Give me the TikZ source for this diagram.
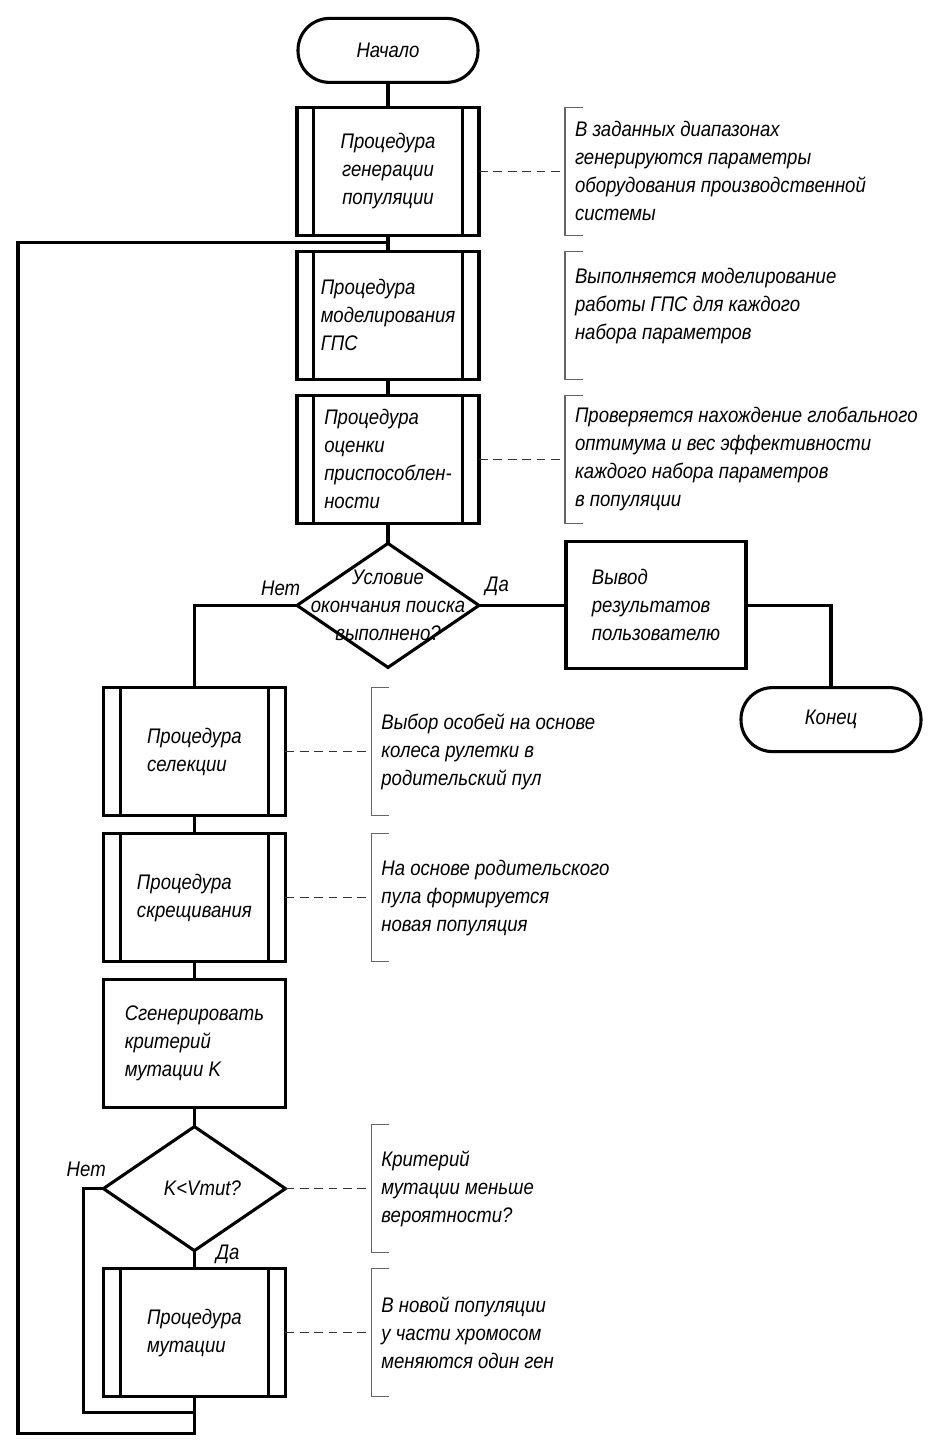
\documentclass[tikz,border=0pt]{standalone}
\usepackage{fontspec}
\setmainfont{Liberation Sans}[FakeStretch=0.88]
\usetikzlibrary{positioning,shapes.geometric,calc}
\newcommand{\flowfont}{\fontsize{15}{19.9}\selectfont\itshape}
\tikzset{
 base/.style={draw,line width=2.2pt,font=\flowfont,align=left,inner sep=0pt,outer sep=0pt},
 terminal/.style={base,rounded corners=0.79cm,minimum width=4.5cm,minimum height=1.6cm,align=center},
 procbox/.style={base,minimum width=4.55cm,minimum height=3.2cm,
   path picture={\draw[line width=2.2pt]
     ([xshift=0.42cm]path picture bounding box.north west) -- ([xshift=0.42cm]path picture bounding box.south west)
     ([xshift=-0.42cm]path picture bounding box.north east) -- ([xshift=-0.42cm]path picture bounding box.south east);}},
 plainbox/.style={base,minimum width=4.55cm,minimum height=3.2cm},
 decision/.style={base,diamond,minimum width=4.55cm,minimum height=3.1cm},
 note/.style={align=left,font=\flowfont,anchor=west,inner xsep=0.25cm,inner ysep=0pt,outer sep=0pt,minimum height=3.2cm},
 tag/.style={font=\flowfont,inner sep=1pt},
 line/.style={line width=2.2pt},
 dashline/.style={dash pattern=on 0.22cm off 0.14cm,line width=1pt,black!80},
 bracketline/.style={line width=1pt,black!60}
}
\begin{document}
\begin{tikzpicture}[node distance=0.45cm]
\useasboundingbox (0,0) rectangle (23.4,-36.375);
% main column
\node[terminal] (start) at (9.7,-1.26) {Начало};
\node[procbox,below=0.625cm of start,align=center] (genpop) {Процедура\\генерации\\популяции};
\node[procbox,below=0.4cm of genpop] (model) {Процедура\\моделирования\\ГПС};
\node[procbox,below=0.4cm of model] (fitness) {Процедура\\оценки\\приспособлен-\\ности};
\node[decision,below=0.5cm of fitness,
      label={[tag,align=center]center:Условие\\окончания поиска\\выполнено?}] (stopcond) {};
\node[plainbox,right=2.175cm of stopcond,minimum width=4.5cm,minimum height=3.175cm] (output) {Вывод\\результатов\\пользователю};
\coordinate[right=2.125cm of output] (outturn);
\node[procbox] (select) at (4.86,-18.79) {Процедура\\селекции};
\node[terminal,anchor=north] (finish) at (outturn |- select.north) {Конец};
\node[procbox,below=of select] (cross) {Процедура\\скрещивания};
\node[plainbox,below=of cross] (mkcrit) {Сгенерировать\\критерий\\мутации K};
\node[decision,below=0.475cm of mkcrit,label={[tag,xshift=0.2cm]center:K<Vmut?}] (mutcheck) {};
\node[procbox,below=of mutcheck] (mutate) {Процедура\\мутации};

% comments on the right
\node[note,right=2.15cm of genpop] (n1) {В заданных диапазонах\\генерируются параметры\\оборудования производственной\\системы};
\node[note,right=2.15cm of model] (n2) {Выполняется моделирование\\работы ГПС для каждого\\набора параметров\\[-0.1cm]};
\node[note,right=2.15cm of fitness] (n3) {Проверяется нахождение глобального\\оптимума и вес эффективности\\каждого набора параметров\\в популяции};
\node[note,right=2.15cm of select] (n4) {Выбор особей на основе\\колеса рулетки в\\родительский пул};
\node[note,right=2.15cm of cross] (n5) {На основе родительского\\пула формируется\\новая популяция};
\node[note,right=2.15cm of mutcheck] (n6) {Критерий\\мутации меньше\\вероятности?};
\node[note,right=2.15cm of mutate] (n7) {В новой популяции\\у части хромосом\\меняются один ген};
\foreach \n in {n1,n2,n3,n4,n5,n6,n7}
  \draw[bracketline] ([xshift=0.45cm]\n.north west) -- (\n.north west) -- (\n.south west) -- ([xshift=0.45cm]\n.south west);
\draw[dashline] (genpop.east) -- (n1.west);
\draw[dashline] (fitness.east) -- (n3.west);
\draw[dashline] (select.east) -- (n4.west);
\draw[dashline] (cross.east) -- (n5.west);
\draw[dashline] (mutcheck.east) -- (n6.west);
\draw[dashline] (mutate.east) -- (n7.west);

% branch labels
\node[tag,anchor=south east] (no1) at ([xshift=0.12cm,yshift=0.2cm]stopcond.west) {Нет};
\node[tag,anchor=south west] (yes1) at ([xshift=0.12cm,yshift=0.2cm]stopcond.east) {Да};
\node[tag,anchor=south east] (no2) at ([xshift=0.1cm,yshift=0.25cm]mutcheck.west) {Нет};
\node[tag,anchor=west] (yes2) at ([xshift=0.5cm,yshift=-0.1cm]mutcheck.south) {Да};

% connectors
\coordinate (nojoin) at ([yshift=-0.4cm]mutate.south);
\coordinate (loopend) at ([yshift=-0.925cm]mutate.south);
\coordinate (looptop) at ([yshift=-0.175cm]genpop.south);
\coordinate (loopleft) at (0.45,0);
\draw[line] (start) -- (genpop) -- (model) -- (fitness) -- (stopcond);
\draw[line] (stopcond.east) -- (output.west);
\draw[line] (output.east) -| (finish.north);
\draw[line] (stopcond.west) -| (select.north);
\draw[line] (select) -- (cross) -- (mkcrit) -- (mutcheck) -- (mutate);
\draw[line] (mutcheck.west) -- ++(-0.5,0) |- (nojoin);
\draw[line] (mutate.south) -- (loopend) -| (loopleft |- looptop) -- (looptop);
\end{tikzpicture}
\end{document}
